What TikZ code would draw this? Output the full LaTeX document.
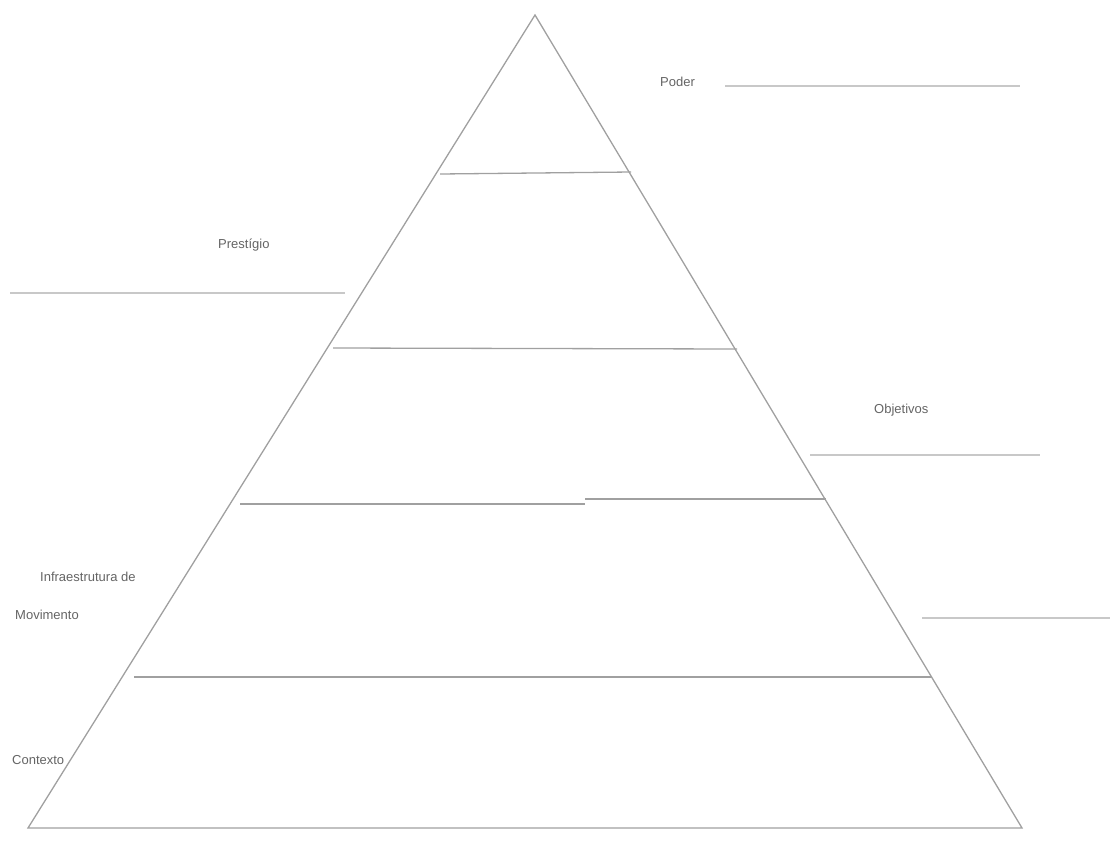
\documentclass[tikz,border=0pt]{standalone}
\usepackage{fontspec}
\setmainfont{Liberation Sans}
\definecolor{edgegray}{RGB}{160,160,160}
\definecolor{leadgray}{RGB}{200,200,200}
\definecolor{txtgray}{RGB}{100,100,100}
\begin{document}
\begin{tikzpicture}[x=1pt,y=-1pt,
  edge/.style={draw=edgegray,line width=1.3pt},
  lead/.style={draw=leadgray,line width=1.2pt},
  lbl/.style={text=txtgray,font=\fontsize{13}{15}\selectfont,inner sep=0pt,anchor=west}]
\useasboundingbox (0,0) rectangle (1118,857);
% pyramid corners
\coordinate (apex) at (535,15);
\coordinate (bl) at (28,828);
\coordinate (br) at (1022,828);
\draw[edge] (bl) -- (apex) -- (br) -- cycle;
% tier lines
\coordinate (t1l) at (440,174); \coordinate (t1r) at (631,172);
\coordinate (t2l) at (333,348); \coordinate (t2r) at (737,349);
\coordinate (t3l) at (240,504); \coordinate (t3m) at (585,504);
\coordinate (t3n) at (585,499); \coordinate (t3r) at (826,499);
\coordinate (t4l) at (134,677); \coordinate (t4r) at (932,677);
\draw[edge] (t1l) -- (t1r);
\draw[edge] (t2l) -- (t2r);
\draw[edge] (t3l) -- (t3m);
\draw[edge] (t3n) -- (t3r);
\draw[edge,line width=1.8pt] (t4l) -- (t4r);
% labels
\node[lbl] (n1) at (660,82) {Poder};
\node[lbl] (n2) at (218,245) {Prestígio};
\node[lbl] (n3) at (874,410) {Objetivos};
\node[lbl] (n4a) at (40,577) {Infraestrutura de};
\node[lbl] (n4b) at (15,615) {Movimento};
\node[lbl] (n5) at (12,760) {Contexto};
% leader lines
\coordinate (l1a) at (725,86); \coordinate (l1b) at (1020,86);
\coordinate (l2a) at (10,293); \coordinate (l2b) at (345,293);
\coordinate (l3a) at (810,455); \coordinate (l3b) at (1040,455);
\coordinate (l4a) at (922,618); \coordinate (l4b) at (1110,618);
\draw[lead] (l1a) -- (l1b);
\draw[lead] (l2a) -- (l2b);
\draw[lead] (l3a) -- (l3b);
\draw[lead] (l4a) -- (l4b);
\end{tikzpicture}
\end{document}
